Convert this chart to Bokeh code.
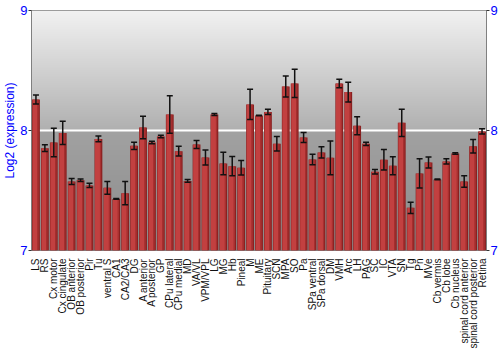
import numpy as np
from bokeh.plotting import figure
from bokeh.models import (ColumnDataSource, FactorRange, Range1d, LinearAxis,
                          FixedTicker, Whisker, TeeHead)
from bokeh.transform import dodge
from bokeh.embed import file_html
from bokeh.resources import INLINE

regions = ["LS", "RS", "Cx motor", "Cx cingulate", "OB anterior", "OB posterior",
           "Pir", "Tu", "ventral S", "CA1", "CA2/CA3", "DG", "A anterior",
           "A posterior", "GP", "CPu lateral", "CPu medial", "MD", "VA/VL",
           "VPM/VPL", "LG", "MG", "Hb", "Pineal", "M", "ME", "Pituitary", "SCN",
           "MPA", "SO", "Pa", "SPa ventral", "SPa dorsal", "DM", "VMH", "Arc",
           "LH", "PAG", "SC", "IC", "VTA", "SN", "Tg", "Pn", "MVe", "Cb vermis",
           "Cb lobe", "Cb nucleus", "spinal cord anterior",
           "spinal cord posterior", "Retina"]

values = [8.258, 7.853, 7.900, 7.980, 7.575, 7.586, 7.542, 7.930, 7.522, 7.430,
          7.478, 7.872, 8.025, 7.900, 7.950, 8.133, 7.828, 7.580, 7.883, 7.775,
          8.133, 7.725, 7.703, 7.690, 8.217, 8.125, 8.155, 7.890, 8.367, 8.392,
          7.942, 7.758, 7.817, 7.772, 8.392, 8.320, 8.039, 7.889, 7.656, 7.756,
          7.706, 8.064, 7.356, 7.642, 7.733, 7.592, 7.742, 7.808, 7.575, 7.869,
          7.992]

errors = [0.037, 0.028, 0.118, 0.097, 0.024, 0.010, 0.018, 0.024, 0.054, 0.003,
          0.096, 0.030, 0.094, 0.011, 0.011, 0.156, 0.040, 0.011, 0.033, 0.063,
          0.008, 0.093, 0.080, 0.060, 0.126, 0.003, 0.022, 0.061, 0.088, 0.118,
          0.042, 0.044, 0.047, 0.140, 0.035, 0.083, 0.075, 0.013, 0.019, 0.086,
          0.075, 0.113, 0.047, 0.122, 0.046, 0.003, 0.022, 0.006, 0.047, 0.057,
          0.022]

y_ticks = [7, 8, 9]
y_min, y_max = 7, 9

lower = [v - e for v, e in zip(values, errors)]
upper = [v + e for v, e in zip(values, errors)]
src = ColumnDataSource(dict(region=regions, value=values, lower=lower, upper=upper))

p = figure(width=500, frame_height=240,
           x_range=FactorRange(*regions), y_range=Range1d(y_min, y_max),
           output_backend="svg", toolbar_location=None,
           min_border_left=0, min_border_right=0, min_border_top=10,
           min_border_bottom=0, outline_line_color="#808080",
           background_fill_color=None, border_fill_color="white",
           y_axis_label="Log2 (expression)")

# background gradient (decorative)
rows = 240
t = np.linspace(0, 1, rows)
g = np.where(t < 0.5, 0x8a + (0xa2 - 0x8a) * (t / 0.5),
             0xb0 + (0xf2 - 0xb0) * ((t - 0.5) / 0.5)).astype(np.uint8)
img = np.zeros((rows, 1), dtype=np.uint32)
view = img.view(dtype=np.uint8).reshape((rows, 1, 4))
view[:, 0, 0] = g
view[:, 0, 1] = g
view[:, 0, 2] = g
view[:, 0, 3] = 255
p.image_rgba(image=[img], x=0, y=y_min, dw=len(regions), dh=y_max - y_min)

p.hspan(y=[8], line_color="white", line_width=2)

p.vbar(x="region", top="value", bottom=y_min, width=0.88, source=src,
       fill_color="#8a2020", line_color=None)
p.vbar(x=dodge("region", -0.1, range=p.x_range), top="value", bottom=y_min,
       width=0.56, source=src, fill_color="#c24040", line_color=None)
p.vbar(x=dodge("region", 0.24, range=p.x_range), top="value", bottom=y_min,
       width=0.14, source=src, fill_color="#a83030", line_color=None)

w = Whisker(base="region", lower="lower", upper="upper", source=src,
            line_color="#111111", line_width=1.5, level="overlay",
            upper_head=TeeHead(size=6, line_color="#111111", line_width=1.5),
            lower_head=TeeHead(size=6, line_color="#111111", line_width=1.5))
p.add_layout(w)

p.xgrid.visible = False
p.ygrid.visible = False

def style_y(ax):
    ax.ticker = FixedTicker(ticks=y_ticks)
    ax.major_label_text_color = "blue"
    ax.major_label_text_font = "Liberation Sans"
    ax.major_label_text_font_size = "13px"
    ax.axis_line_color = "#808080"
    ax.major_tick_line_color = "#333333"
    ax.major_tick_out = 3
    ax.major_tick_in = 0
    ax.minor_tick_line_color = None
    ax.major_label_standoff = 1

style_y(p.yaxis[0])
p.yaxis[0].axis_label_text_color = "blue"
p.yaxis[0].axis_label_text_font = "Liberation Sans"
p.yaxis[0].axis_label_text_font_style = "normal"
p.yaxis[0].axis_label_text_font_size = "12px"
p.yaxis[0].axis_label_standoff = 0

right = LinearAxis()
style_y(right)
p.add_layout(right, "right")

xa = p.xaxis[0]
xa.major_label_orientation = np.pi / 2
xa.axis_line_color = None
xa.major_tick_line_color = None
xa.major_label_text_font = "Liberation Sans"
xa.major_label_text_font_size = "10px"
xa.major_label_text_color = "#111111"
xa.major_label_standoff = 2

open("out.html", "w").write(file_html(p, INLINE))
